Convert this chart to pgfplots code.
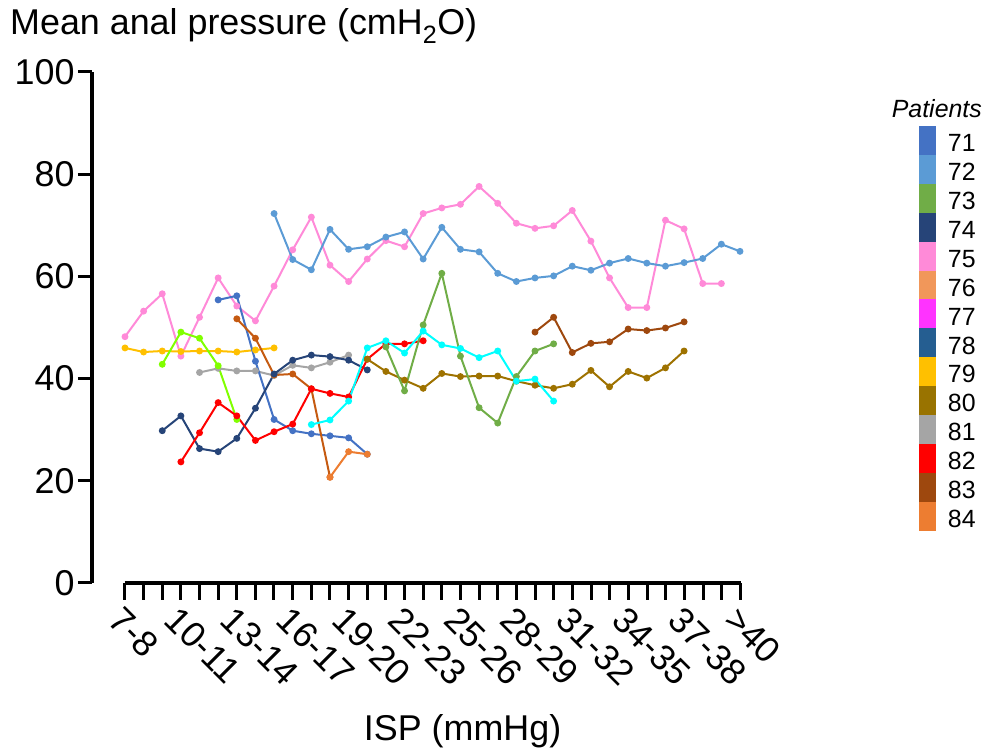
\documentclass[border=0pt]{standalone}
\usepackage{fontspec}
\setmainfont{Liberation Sans}
\usepackage{pgfplots}
\pgfplotsset{compat=1.18}
\definecolor{c71}{HTML}{4472C4}
\definecolor{c72}{HTML}{5B9BD5}
\definecolor{c73}{HTML}{70AD47}
\definecolor{c74}{HTML}{264478}
\definecolor{c75}{HTML}{FF8AD8}
\definecolor{c76}{HTML}{F1975A}
\definecolor{c77}{HTML}{FF33FF}
\definecolor{c78}{HTML}{255E91}
\definecolor{c79}{HTML}{FFC000}
\definecolor{c80}{HTML}{997300}
\definecolor{c81}{HTML}{A5A5A5}
\definecolor{c82}{HTML}{FF0000}
\definecolor{c83}{HTML}{9E480E}
\definecolor{c84}{HTML}{ED7D31}
\definecolor{lime}{HTML}{80FF00}
\definecolor{cyanp}{HTML}{00FFFF}
\definecolor{orbrown}{HTML}{C55A11}
\definecolor{olivep}{HTML}{9E7200}
\pgfplotsset{
  ser/.style={color=#1, line width=2bp, mark=*, mark size=2.4bp, mark options={solid, fill=#1}, forget plot},
}
\begin{document}
\begin{tikzpicture}
\useasboundingbox (0,0) rectangle (990bp,751bp);
% main axis: data + y axis
\begin{axis}[
  at={(92bp,168bp)}, anchor=south west,
  scale only axis, width=648bp, height=511bp,
  xmin=-1.77, xmax=33, ymin=0, ymax=100,
  axis y line*=left, axis x line=none,
  ytick={0,20,...,100},
  tick align=outside, major tick length=14bp,
  axis line style={line width=3bp, black},
  every tick/.style={line width=3bp, black},
  y tick label style={font=\fontsize{36}{40}\selectfont},
  /pgf/number format/assume math mode=true,
  title={Mean anal pressure (cmH\textsubscript{2}O)},
  title style={at={(0,1)}, anchor=base west, xshift=-82bp, yshift=32bp, font=\fontsize{36}{40}\selectfont, inner sep=0pt},
  clip=false,
  legend image code/.code={\fill[#1, draw=none] (0bp,-9bp) rectangle (17bp,20.2bp);},
  legend cell align=left,
  legend style={at={(1.2762,0.8943)}, anchor=north west, draw=none, fill=none,
    inner sep=0pt, outer sep=0pt, row sep=-5.8bp, column sep=12bp,
    font=\fontsize{25}{25}\selectfont,
    nodes={inner sep=0pt, outer sep=0pt, text height=20bp, text depth=9bp}},
]
% 75 pink
\addplot[ser=c75] coordinates {(0,48.2)(1,53.2)(2,56.6)(3,44.4)(4,52.0)(5,59.7)(6,54.2)(7,51.3)(8,58.1)(9,65.2)(10,71.6)(11,62.2)(12,59.0)(13,63.4)(14,67.0)(15,65.8)(16,72.3)(17,73.4)(18,74.1)(19,77.6)(20,74.3)(21,70.4)(22,69.4)(23,69.9)(24,72.9)(25,66.9)(26,59.7)(27,53.9)(28,53.9)(29,71.0)(30,69.3)(31,58.6)(32,58.6)};
% 72 light blue
\addplot[ser=c72] coordinates {(8,72.3)(9,63.3)(10,61.3)(11,69.2)(12,65.3)(13,65.8)(14,67.7)(15,68.7)(16,63.4)(17,69.6)(18,65.3)(19,64.8)(20,60.6)(21,59.0)(22,59.7)(23,60.1)(24,62.0)(25,61.2)(26,62.6)(27,63.5)(28,62.6)(29,62.0)(30,62.7)(31,63.5)(32,66.3)(33,64.9)};
% 79 gold
\addplot[ser=c79] coordinates {(0,46.0)(1,45.2)(2,45.4)(3,45.3)(4,45.4)(5,45.4)(6,45.2)(7,45.6)(8,46.0)};
% 81 gray
\addplot[ser=c81] coordinates {(4,41.2)(5,42.0)(6,41.5)(7,41.5)(8,40.6)(9,42.6)(10,42.1)(11,43.2)(12,44.6)};
% lime
\addplot[ser=lime] coordinates {(2,42.8)(3,49.1)(4,47.9)(5,42.5)(6,32.0)};
% 71 blue
\addplot[ser=c71] coordinates {(5,55.4)(6,56.2)(7,43.4)(8,32.0)(9,29.8)(10,29.2)(11,28.8)(12,28.4)(13,25.2)};
% orange-brown
\addplot[ser=orbrown] coordinates {(6,51.7)(7,47.9)(8,40.7)(9,40.9)(10,38.0)(11,20.7)};
\addplot[ser=c84] coordinates {(11,20.7)(12,25.7)(13,25.2)};
% 74 navy
\addplot[ser=c74] coordinates {(2,29.8)(3,32.7)(4,26.3)(5,25.7)(6,28.3)(7,34.2)(8,40.9)(9,43.6)(10,44.6)(11,44.3)(12,43.6)(13,41.7)};
% 82 red
\addplot[ser=c82] coordinates {(3,23.7)(4,29.4)(5,35.3)(6,32.7)(7,27.9)(8,29.6)(9,31.1)(10,38.0)(11,37.1)(12,36.4)(13,43.8)(14,46.8)(15,46.8)(16,47.4)};
% 80 olive
\addplot[ser=olivep] coordinates {(13,43.8)(14,41.4)(15,39.7)(16,38.1)(17,41.0)(18,40.4)(19,40.5)(20,40.5)(21,39.5)(22,38.7)(23,38.1)(24,38.9)(25,41.6)(26,38.4)(27,41.4)(28,40.1)(29,42.1)(30,45.4)};
% 73 green
\addplot[ser=c73] coordinates {(14,46.2)(15,37.6)(16,50.5)(17,60.6)(18,44.4)(19,34.3)(20,31.3)(21,40.4)(22,45.4)(23,46.8)};
% cyan
\addplot[ser=cyanp] coordinates {(10,31.0)(11,31.9)(12,35.6)(13,46.0)(14,47.4)(15,45.0)(16,49.3)(17,46.6)(18,45.9)(19,44.1)(20,45.4)(21,39.5)(22,39.9)(23,35.6)};
% 83 brown
\addplot[ser=c83] coordinates {(22,49.1)(23,52.0)(24,45.1)(25,46.9)(26,47.2)(27,49.7)(28,49.4)(29,49.9)(30,51.1)};
% legend
\addlegendimage{fill=c71}\addlegendentry{71}
\addlegendimage{fill=c72}\addlegendentry{72}
\addlegendimage{fill=c73}\addlegendentry{73}
\addlegendimage{fill=c74}\addlegendentry{74}
\addlegendimage{fill=c75}\addlegendentry{75}
\addlegendimage{fill=c76}\addlegendentry{76}
\addlegendimage{fill=c77}\addlegendentry{77}
\addlegendimage{fill=c78}\addlegendentry{78}
\addlegendimage{fill=c79}\addlegendentry{79}
\addlegendimage{fill=c80}\addlegendentry{80}
\addlegendimage{fill=c81}\addlegendentry{81}
\addlegendimage{fill=c82}\addlegendentry{82}
\addlegendimage{fill=c83}\addlegendentry{83}
\addlegendimage{fill=c84}\addlegendentry{84}
\node[anchor=base east, font=\fontsize{25}{25}\selectfont\itshape, inner sep=0pt] at (rel axis cs:1.3735,0.91) {Patients};
\end{axis}
% x axis
\begin{axis}[
  at={(124.7bp,168bp)}, anchor=south west,
  scale only axis, width=615.8bp, height=511bp,
  xmin=0, xmax=33, ymin=0, ymax=100,
  axis x line*=bottom, axis y line=none,
  xtick={0,...,33},
  xticklabels={7-8,,,10-11,,,13-14,,,16-17,,,19-20,,,22-23,,,25-26,,,28-29,,,31-32,,,34-35,,,37-38,,,>40},
  tick align=outside, major tick length=17bp,
  axis line style={line width=3bp, black},
  every tick/.style={line width=3bp, black},
  x tick label style={rotate=-45, anchor=north west, font=\fontsize{36}{40}\selectfont},
  xlabel={ISP (mmHg)},
  xlabel style={at={(axis description cs:0.5,0)}, anchor=base, xshift=30bp, yshift=-157bp, font=\fontsize{36}{40}\selectfont},
]
\end{axis}
\end{tikzpicture}
\end{document}
